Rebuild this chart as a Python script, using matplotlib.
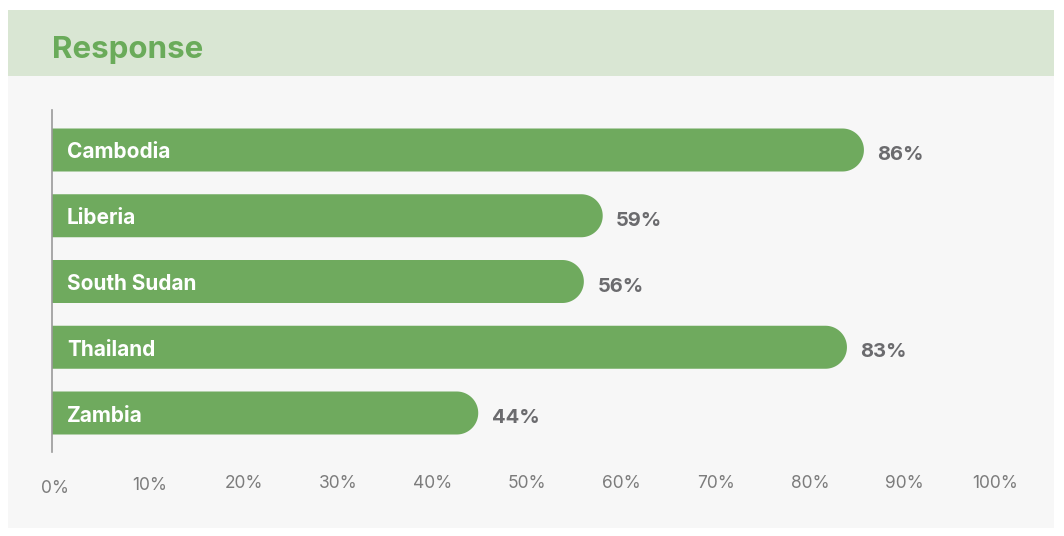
import numpy as np
import matplotlib
matplotlib.use("Agg")
import matplotlib.pyplot as plt
from matplotlib.patches import Rectangle, Polygon
from matplotlib.transforms import ScaledTranslation

categories = ["Cambodia", "Liberia", "South Sudan", "Thailand", "Zambia"]
bar_lengths = [86.1, 58.4, 56.4, 84.3, 45.2]   # drawn bar length
value_labels = ["86%", "59%", "56%", "83%", "44%"]
tick_values = [0, 10, 20, 30, 40, 50, 60, 70, 80, 90, 100]
tick_labels = ["0%", "10%", "20%", "30%", "40%", "50%", "60%", "70%", "80%", "90%", "100%"]
title = "Response"

W, H = 1064, 536
DPI = 100
fig = plt.figure(figsize=(W / DPI, H / DPI), dpi=DPI)
fig.patch.set_facecolor("white")

def fx(px):
    return px / W

def fy(py):
    return 1 - py / H

FONT = ["Inter", "DejaVu Sans"]

# panel + header
fig.patches.append(Rectangle((fx(8), fy(528)), fx(1054 - 8), (528 - 76) / H,
                             transform=fig.transFigure, facecolor="#f7f7f7", edgecolor="none", zorder=-10))
fig.patches.append(Rectangle((fx(8), fy(76)), fx(1054 - 8), (76 - 10) / H,
                             transform=fig.transFigure, facecolor="#d9e6d3", edgecolor="none", zorder=-10))
fig.text(fx(52), fy(58), title, fontsize=22.5, fontweight="bold", color="#6aab5a",
         family=FONT, va="baseline", ha="left")

ax_left, ax_right = 52, 995
ax_top, ax_bot = 110, 452
ax = fig.add_axes([fx(ax_left), fy(ax_bot), fx(ax_right - ax_left), (ax_bot - ax_top) / H])
ax.set_facecolor("none")
ax.set_zorder(1)

n = len(categories)
span_px = 413 - 150
unit_px = span_px / (n - 1)
top_lim = -(150 - ax_top) / unit_px
bot_lim = (n - 1) + (ax_bot - 413) / unit_px
ax.set_ylim(bot_lim, top_lim)
ax.set_xlim(0, 100)

bar_h = 43 / unit_px
px_per_x = (ax_right - ax_left) / 100.0
r_x = (43 / 2) / px_per_x
green = "#6faa5e"

t = np.linspace(np.pi / 2, -np.pi / 2, 60)
for i, (c, v, lab) in enumerate(zip(categories, bar_lengths, value_labels)):
    cx = v - r_x
    arc_x = cx + r_x * np.cos(t)
    arc_y = i - (bar_h / 2) * np.sin(t)
    xs = np.concatenate([[0], arc_x, [0]])
    ys = np.concatenate([[i - bar_h / 2], arc_y, [i + bar_h / 2]])
    ax.add_patch(Polygon(np.column_stack([xs, ys]), closed=True, facecolor=green,
                         edgecolor="none", zorder=2))
    ax.text(15 / px_per_x, i + 8.5 / unit_px, c, color="white", fontsize=15, fontweight="bold",
            family=FONT, va="baseline", ha="left", zorder=3)
    ax.text(v + 13.5 / px_per_x, i + 10 / unit_px, lab, color="#6b6b6e", fontsize=14.5, fontweight="bold",
            family=FONT, va="baseline", ha="left", zorder=3)

for s in ["top", "right", "bottom"]:
    ax.spines[s].set_visible(False)
ax.spines["left"].set_color("#9a9a9a")
ax.spines["left"].set_linewidth(1.2)
ax.set_yticks([])
ax.set_xticks(tick_values)
ax.set_xticklabels(tick_labels, fontsize=12.5, color="#7c7c7c", family=FONT)
ax.tick_params(axis="x", length=0, pad=16.5)

# small per-label nudges (pixels) seen in the reference
dx_px = [3.5] * 10 + [0]
dy_px = [-5, -2] + [0] * 9
for lbl, dx, dy in zip(ax.get_xticklabels(), dx_px, dy_px):
    lbl.set_transform(lbl.get_transform() + ScaledTranslation(dx / DPI, dy / DPI, fig.dpi_scale_trans))

fig.savefig("out.png", dpi=DPI, facecolor="white")
